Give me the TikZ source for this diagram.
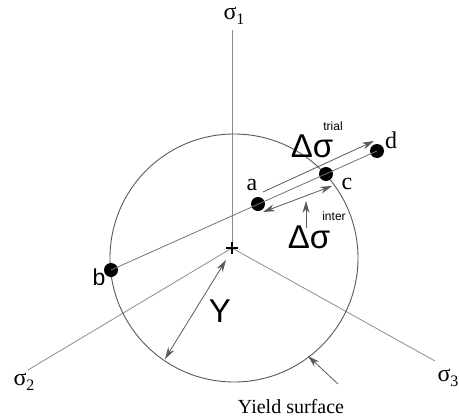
\documentclass[tikz,border=0pt]{standalone}
\usepackage{fontspec}
\setmainfont{Liberation Serif}
\setsansfont{Liberation Sans}
\usetikzlibrary{arrows.meta}
\newcommand{\sig}[1]{σ\raisebox{-0.45ex}{\fontsize{16}{16}\selectfont #1}}
\begin{document}
\begin{tikzpicture}[x=1pt,y=-1pt,
  axisline/.style={draw=black!45, line width=0.8pt},
  pathline/.style={draw=black!55, line width=0.8pt},
  circ/.style={draw=black!65, line width=0.9pt},
  arr/.style={draw=black!65, line width=0.8pt, -{Stealth[length=12pt,width=7pt]}},
  darr/.style={draw=black!65, line width=0.8pt, {Stealth[length=12pt,width=7pt]}-{Stealth[length=12pt,width=7pt]}},
  dot/.style={circle, fill=black, inner sep=0pt, minimum size=14pt},
  lab/.style={inner sep=0pt, font=\fontsize{24}{24}\selectfont},
  slab/.style={inner sep=0pt, font=\sffamily\fontsize{23}{23}\selectfont},
  biglab/.style={inner sep=0pt, font=\sffamily\fontsize{33}{33}\selectfont},
  suplab/.style={inner sep=0pt, font=\sffamily\fontsize{12}{12}\selectfont}
]
\useasboundingbox (0,0) rectangle (459,418);
% axes
\coordinate (o) at (232,248);
\coordinate (e1) at (232,30);
\coordinate (e2) at (28,370);
\coordinate (e3) at (435,361);
\draw[axisline] (o) -- (e1);
\draw[axisline] (o) -- (e2);
\draw[axisline] (o) -- (e3);
\node[lab] (s1) at (234,16) {\sig{1}};
\node[lab] (s2) at (24,382) {\sig{2}};
\node[lab] (s3) at (448,378) {\sig{3}};
% circle (yield surface)
\coordinate (cc) at (234,258);
\draw[circ] (cc) circle[radius=124];
% plus
\draw[line width=1.5pt] (226,248) -- (238,248) (232,242) -- (232,254);
% points
\node[dot] (b) at (111,270) {};
\node[dot] (a) at (258,204) {};
\node[dot] (c) at (326,174) {};
\node[dot] (d) at (377,151) {};
\draw[pathline] (b.center) -- (d.center);
\node[lab] (la) at (252,185) {a};
\node[lab] (lc) at (347,184) {c};
\node[lab] (ld) at (391,140) {d};
\node[slab] (lb) at (99,277) {b};
% trial arrow
\coordinate (t1) at (263,192);
\coordinate (t2) at (374,141);
\draw[arr] (t1) -- (t2);
\node[biglab] (dtr) at (312,146) {Δσ};
\node[suplab] (tr) at (333,126) {trial};
% inter arrow
\coordinate (i1) at (263,212);
\coordinate (i2) at (332,186);
\draw[darr] (i1) -- (i2);
\coordinate (p1) at (306,228);
\coordinate (p2) at (306,201);
\draw[arr] (p1) -- (p2);
\node[biglab] (dint) at (309,237) {Δσ};
\node[suplab] (in) at (334,216) {inter};
% Y
\coordinate (y1) at (226,260);
\coordinate (y2) at (165,359);
\draw[darr] (y1) -- (y2);
\node[biglab] (ly) at (220,311) {Y};
% Yield surface
\coordinate (ys1) at (338,384);
\coordinate (ys2) at (308,356);
\draw[arr] (ys1) -- (ys2);
\node[inner sep=0pt, font=\fontsize{20}{20}\selectfont] (ysl) at (291,407) {Yield surface};
\end{tikzpicture}
\end{document}
